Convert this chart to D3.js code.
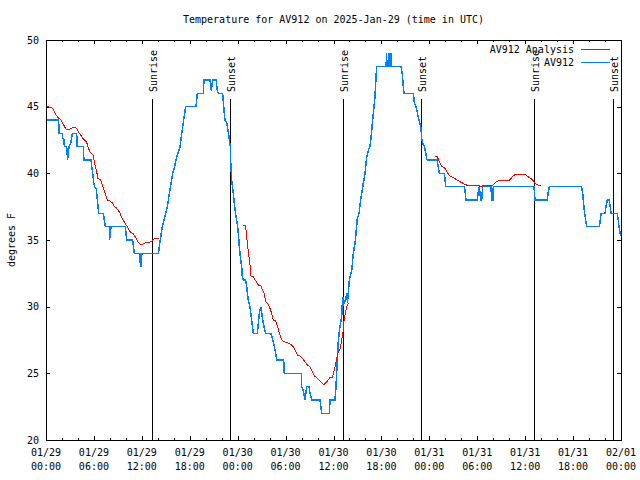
<!DOCTYPE html>
<html>
<head>
<meta charset="utf-8">
<script src="https://cdn.jsdelivr.net/npm/d3@7"></script>
<style>
  html, body { margin: 0; padding: 0; background: #fff; }
  svg { display: block; }
  text { font-family: "DejaVu Sans Mono", "Liberation Mono", monospace; font-size: 10px; fill: #000; }
</style>
</head>
<body>
<svg id="chart" width="640" height="480"></svg>
<script>
// ---------------- DATA ----------------
const chartTitle = "Temperature for AV912 on 2025-Jan-29 (time in UTC)";
const yLabel = "degrees F";
const startTime = "2025-01-29T00:00:00Z";
const endTime = "2025-02-01T00:00:00Z";

const yTicks = [20, 25, 30, 35, 40, 45, 50];
const xTickDates = ["01/29","01/29","01/29","01/29","01/30","01/30","01/30","01/30","01/31","01/31","01/31","01/31","02/01"];
const xTickTimes = ["00:00","06:00","12:00","18:00","00:00","06:00","12:00","18:00","00:00","06:00","12:00","18:00","00:00"];

const eventLabels = ["Sunrise","Sunset","Sunrise","Sunset","Sunrise","Sunset"];
const eventTimes = ["2025-01-29T13:14:00Z","2025-01-29T23:05:00Z","2025-01-30T13:14:00Z","2025-01-30T22:59:00Z","2025-01-31T13:09:00Z","2025-01-31T23:02:00Z"];

const seriesNames = ["AV912 Analysis", "AV912"];

// observed station temperature (hours since start, deg F)
const blueHours = [0,1.59,1.62,2.05,2.1,2.25,2.3,2.59,2.7,2.78,2.88,3.1,3.3,3.84,3.9,4.67,4.75,5.65,5.72,5.85,5.98,6.1,6.3,6.43,6.6,7.18,7.43,7.93,7.96,8.05,8.14,9.93,10.1,10.85,11.06,11.77,11.82,11.88,11.93,12.02,14.07,14.3,14.57,14.99,15.2,15.44,15.86,16.1,16.36,16.78,17.11,17.49,18.78,18.95,19.7,19.78,20.54,20.7,20.87,21.3,21.45,21.58,22.12,22.25,22.41,22.62,22.85,23.08,23.12,23.25,23.46,23.58,23.79,23.96,24.08,24.21,24.33,24.5,24.58,24.71,25.0,25.13,25.33,25.54,25.75,25.96,26.46,26.59,26.71,26.88,27.0,27.13,27.3,27.5,28.17,28.34,28.59,28.76,28.88,29.76,29.84,31.96,32.02,32.22,32.43,32.64,32.94,33.06,33.27,34.32,34.52,35.48,35.56,36.19,36.31,36.48,36.61,36.8,37.02,37.15,37.3,37.5,37.65,37.75,37.85,37.98,38.28,38.48,38.69,38.82,38.98,39.2,39.4,39.74,39.95,40.15,40.4,40.57,40.75,40.9,41.07,41.2,41.4,42.6,42.62,42.66,42.68,42.9,42.92,42.96,42.98,43.2,43.22,43.26,43.28,44.45,44.6,44.82,45.99,46.15,46.33,46.7,46.96,47.04,47.2,47.4,47.67,47.75,49.0,49.1,49.25,49.88,50.05,52.39,52.5,52.59,54.0,54.1,54.26,54.43,54.55,54.68,55.72,55.8,55.95,56.01,61.11,61.23,61.65,61.94,62.77,62.9,63.02,67.07,67.2,67.35,67.5,67.7,69.29,69.4,69.5,70.0,70.15,70.29,70.5,70.65,70.75,71.54,71.65,71.75,71.96];
const blueTemps = [44,44,43,43,42.6,42.5,42,42,41,41.5,42,42.3,43,43,42,42,41,41,40.5,40,39.3,39,38.8,38,37,37,36,36,35,35.6,36,36,35,35,34,34,33,33,33.6,34,34,35,36,37,37.5,38.5,40,40.5,41.2,42,43.5,45,45,46,46,47,47,46.2,47,47,46.2,46,46,45,44,43.8,43,42,41,39.5,38.5,37.75,36.75,36.2,35.5,34.5,33.75,33,32.3,32,32,31.5,30.5,30,29,28,28,28.8,29.5,30,29.6,29,28.5,28,28,27.6,27,26.5,26,26,25,25,24,23.7,23,24,24,23.5,23,23,22,22,23,23,24,26,27.5,28.5,29.25,30.75,30.2,30.5,31,30.3,31,32,32.7,34,34.75,35.5,36.6,37,38,39.3,40,41.2,41.8,42,43,44,45,45.8,48,48,49,49,48,48,49,49,48,48,49,49,48,48,47.5,46,46,45.2,45,44,43.4,42.6,42.2,42,41.1,41,41,40.5,40,40,39,39,38.5,38,38,38.5,39,38,38,39,39,38,38,39,39,38,38,38,38,38.6,39,39,38.5,37.5,36.8,36,36,36.5,37,37,37.6,38,38,37.5,37,37,36.5,36,35.3];

// analysis temperature (null = gap)
const redHours = [0.17,0.67,0.88,1.09,1.35,1.63,1.88,2.17,2.45,2.67,2.98,3.3,3.71,3.92,4.13,4.34,4.55,4.85,5.09,5.3,5.5,5.72,5.93,6.09,6.3,6.51,6.85,7.05,7.26,7.47,7.68,8.0,8.31,8.52,8.81,9.02,9.27,9.43,9.64,9.85,10.18,10.39,10.6,10.89,11.1,11.52,11.85,12.18,12.48,12.81,13.19,13.52,13.81,14.11,
  null,
  24.71,25.0,25.13,25.25,25.42,25.55,25.67,25.96,26.2,26.4,26.59,26.92,27.1,27.3,27.5,27.71,27.9,28.05,28.25,28.46,28.76,29.0,29.22,29.51,29.8,30.13,30.47,30.75,31.05,31.26,31.5,31.81,32.1,32.43,32.75,33.06,33.35,33.6,33.9,34.19,34.5,34.81,34.95,35.27,35.55,35.85,36.0,36.19,36.4,36.6,36.81,37.03,37.23,37.36,37.5,37.65,37.8,37.98,
  null,
  48.7,48.99,49.2,49.37,49.54,49.8,50.04,50.25,50.46,50.71,51.0,51.3,51.6,51.84,52.1,52.38,52.67,54.14,54.26,54.68,54.76,55.93,56.23,56.45,56.73,58.02,58.23,58.5,58.73,59.1,59.6,59.98,60.2,60.5,60.8,61.0,61.2,61.44,61.94];
const redTemps = [45.0,44.95,44.82,44.57,44.3,44.12,44.0,43.67,43.37,43.25,43.32,43.42,43.45,43.3,43.05,42.87,42.67,42.5,42.32,41.92,41.62,41.5,41.32,40.75,40.25,39.62,39.5,39.17,38.75,38.4,38.0,37.92,37.8,37.55,37.4,37.25,37.0,36.75,36.5,36.3,36.0,35.75,35.57,35.5,35.3,34.87,34.67,34.7,34.8,34.82,34.87,35.07,35.12,35.12,
  null,
  36.07,36.05,35.25,34.5,33.75,33.1,32.3,32.25,32.0,31.8,31.62,31.55,31.25,31.0,30.4,30.25,30.1,29.87,29.5,29.0,28.95,28.5,28.0,27.5,27.37,27.3,27.25,27.12,26.92,26.62,26.37,26.3,26.12,25.87,25.62,25.5,25.12,24.8,24.67,24.5,24.3,24.12,24.25,24.45,24.67,24.7,25.0,25.5,26.12,26.62,26.8,27.5,28.25,29.25,29.5,30.0,30.2,30.25,
  null,
  41.3,41.25,40.95,40.75,40.5,40.45,40.3,40.07,39.87,39.75,39.7,39.57,39.45,39.37,39.3,39.2,39.12,39.12,39.05,39.05,39.12,39.12,39.3,39.37,39.5,39.5,39.62,39.8,39.92,39.92,39.95,39.95,39.8,39.7,39.57,39.45,39.3,39.15,39.05];

// ---------------- DRAWING ----------------
const W = 640, H = 480;
const plotL = 46, plotR = 621, plotT = 40, plotB = 440;
const t0 = new Date(startTime), t1 = new Date(endTime);
const hourToDate = h => (h == null ? null : new Date(t0.getTime() + h * 3600e3));

const x = d3.scaleUtc().domain([t0, t1]).range([plotL, plotR]);
const y = d3.scaleLinear().domain([yTicks[0], yTicks[yTicks.length - 1]]).range([plotB, plotT]);

const svg = d3.select("#chart");
svg.append("rect").attr("width", W).attr("height", H).attr("fill", "#fff");

const majorTicks = d3.utcHour.every(6).range(t0, new Date(t1.getTime() + 1));
const minorTicks = d3.utcHour.every(2).range(t0, new Date(t1.getTime() + 1))
  .filter(d => d.getUTCHours() % 6 !== 0);

function styleAxis(g) {
  g.select(".domain").remove();
  g.selectAll("line").attr("stroke", "#000").attr("shape-rendering", "crispEdges");
  g.selectAll("text").remove();
}

// bottom / top axes (ticks inward)
svg.append("g").attr("transform", `translate(0,${plotB})`)
  .call(d3.axisBottom(x).tickValues(majorTicks).tickSizeInner(-4).tickSizeOuter(0)).call(styleAxis);
svg.append("g").attr("transform", `translate(0,${plotB})`)
  .call(d3.axisBottom(x).tickValues(minorTicks).tickSizeInner(-2).tickSizeOuter(0)).call(styleAxis);
svg.append("g").attr("transform", `translate(0,${plotT})`)
  .call(d3.axisTop(x).tickValues(majorTicks).tickSizeInner(-4).tickSizeOuter(0)).call(styleAxis);
svg.append("g").attr("transform", `translate(0,${plotT})`)
  .call(d3.axisTop(x).tickValues(minorTicks).tickSizeInner(-2).tickSizeOuter(0)).call(styleAxis);

// left axis with labels
const gy = svg.append("g").attr("transform", `translate(${plotL},0)`)
  .call(d3.axisLeft(y).tickValues(yTicks).tickSizeInner(-4).tickSizeOuter(0).tickPadding(7).tickFormat(d3.format("d")));
gy.select(".domain").remove();
gy.selectAll("line").attr("stroke", "#000").attr("shape-rendering", "crispEdges");
gy.attr("font-family", null).attr("font-size", null);
gy.selectAll("text").attr("fill", "#000");
svg.append("g").attr("transform", `translate(${plotR},0)`)
  .call(d3.axisRight(y).tickValues(yTicks).tickSizeInner(-4).tickSizeOuter(0)).call(styleAxis);

// x tick labels (two lines)
const xl = svg.append("g");
majorTicks.forEach((d, i) => {
  const t = xl.append("text").attr("text-anchor", "middle");
  t.append("tspan").attr("x", x(d)).attr("y", 456).text(xTickDates[i]);
  t.append("tspan").attr("x", x(d)).attr("y", 470).text(xTickTimes[i]);
});

// sunrise / sunset lines
const ev = svg.append("g");
eventTimes.forEach((s, i) => {
  const xe = Math.round(x(new Date(s))) + 0.5;
  ev.append("line").attr("x1", xe).attr("x2", xe).attr("y1", 99).attr("y2", plotB)
    .attr("stroke", "#000").attr("stroke-width", 1.2).attr("shape-rendering", "crispEdges");
  ev.append("text").attr("transform", `translate(${xe + 4},92) rotate(-90)`)
    .attr("text-anchor", "start").text(eventLabels[i]);
});

// series lines
const blueData = blueHours.map((h, i) => ({ t: hourToDate(h), v: blueTemps[i] }));
const redData = redHours.map((h, i) => ({ t: hourToDate(h), v: redTemps[i] }));
const line = d3.line().defined(d => d.t != null && d.v != null).x(d => x(d.t)).y(d => y(d.v));

svg.append("path").datum(blueData).attr("d", line)
  .attr("fill", "none").attr("stroke", "#0080ff").attr("stroke-width", 1.5)
  .attr("stroke-linejoin", "miter").attr("shape-rendering", "crispEdges");
svg.append("path").datum(redData).attr("d", line)
  .attr("fill", "none").attr("stroke", "#ff0000").attr("stroke-width", 1)
  .attr("shape-rendering", "crispEdges");

// frame
svg.append("rect").attr("x", plotL + 0.5).attr("y", plotT + 0.5)
  .attr("width", plotR - plotL).attr("height", plotB - plotT)
  .attr("fill", "none").attr("stroke", "#000").attr("stroke-width", 1).attr("shape-rendering", "crispEdges");

// title & y label
svg.append("text").attr("x", (plotL + plotR) / 2).attr("y", 23).attr("text-anchor", "middle").text(chartTitle);
svg.append("text").attr("transform", `translate(15,${(plotT + plotB) / 2}) rotate(-90)`)
  .attr("text-anchor", "middle").text(yLabel);

// legend
const legColors = ["#ff0000", "#0080ff"];
const legWidths = [1, 1.5];
seriesNames.forEach((n, i) => {
  const yy = 53 + i * 13;
  svg.append("text").attr("x", 574).attr("y", yy).attr("text-anchor", "end").text(n);
  svg.append("line").attr("x1", 581).attr("x2", 610).attr("y1", yy - 3.5).attr("y2", yy - 3.5)
    .attr("stroke", legColors[i]).attr("stroke-width", legWidths[i]).attr("shape-rendering", "crispEdges");
});
</script>
</body>
</html>
